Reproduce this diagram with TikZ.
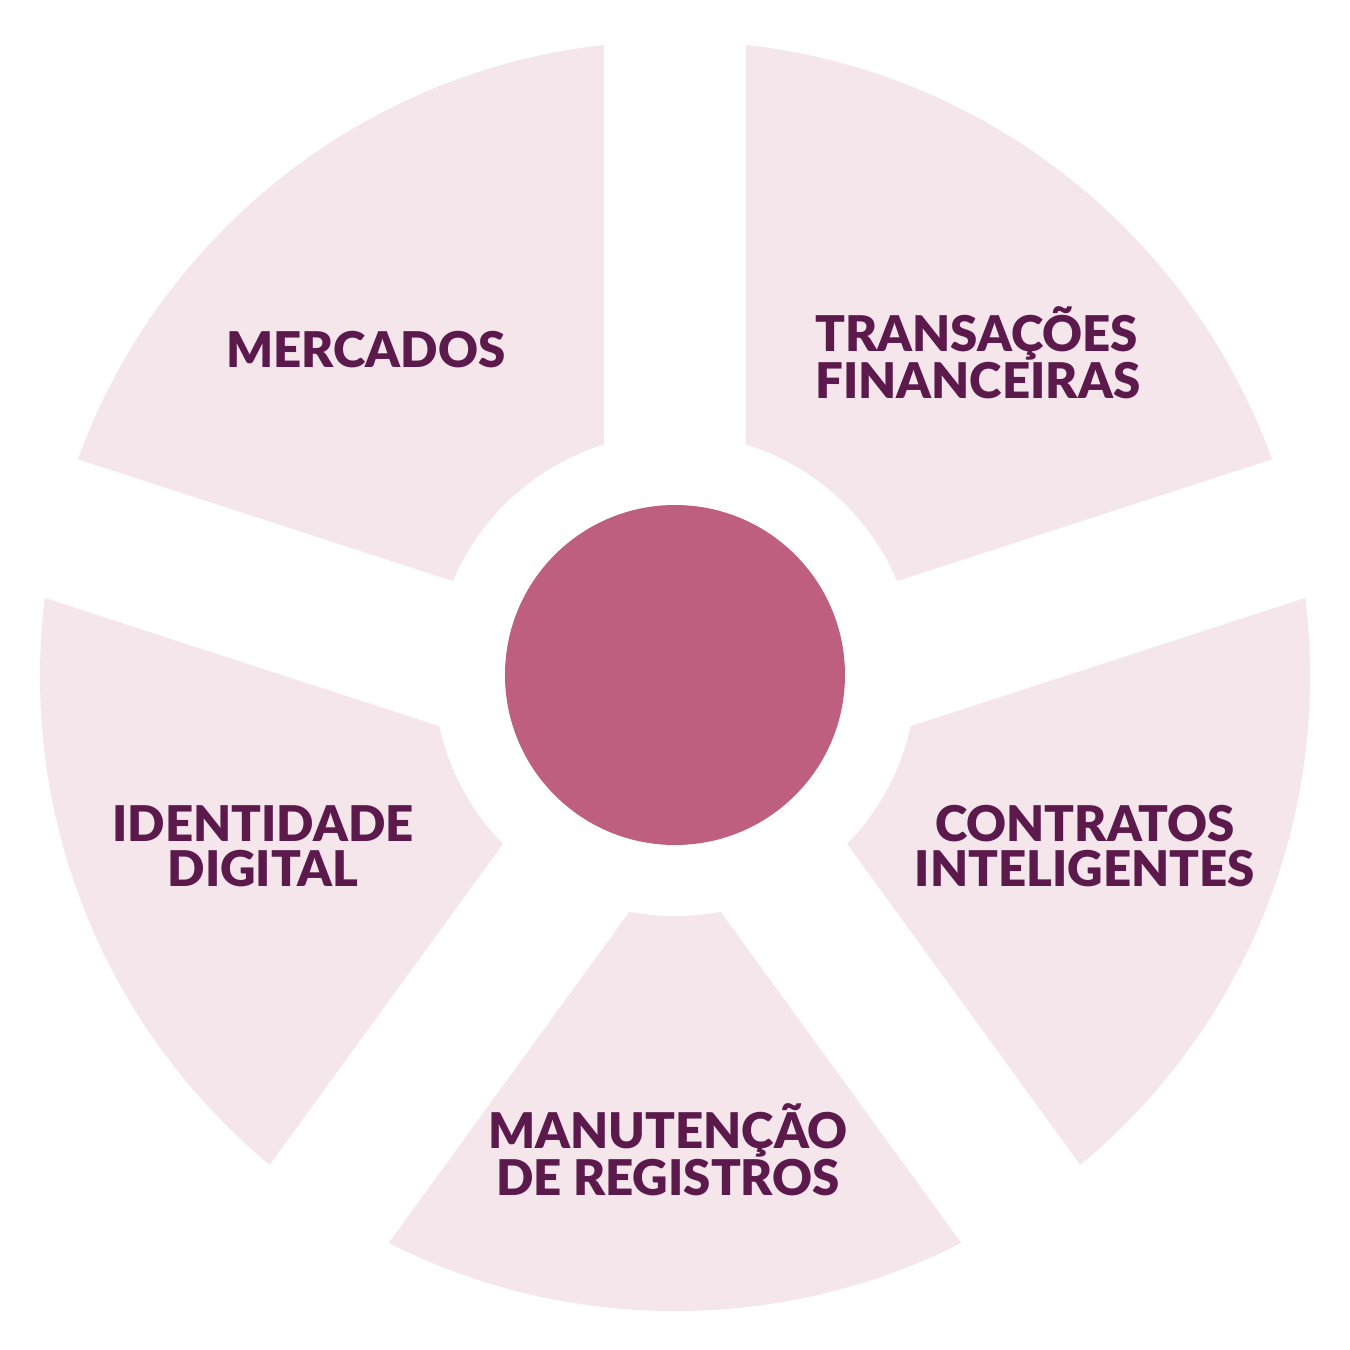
\documentclass[tikz,border=0pt]{standalone}
\usepackage{fontspec}
\setmainfont{Lato}[BoldFont={Lato Black}]
\definecolor{sectorpink}{HTML}{F5E6EC}
\definecolor{hubrose}{HTML}{BF5F80}
\definecolor{labelplum}{HTML}{5C1A4C}
\tikzset{
  seclabel/.style={text=labelplum, font=\fontsize{28}{25.5}\selectfont\bfseries, align=center, inner sep=0pt},
  gapstrip/.style={white, line width=2.84cm},
}
\begin{document}
\begin{tikzpicture}[x=0.02cm, y=0.02cm]
\useasboundingbox[fill=white] (-675,-675) rectangle (675,675);
% ring of sectors
\fill[sectorpink] (0,-1) circle[radius=635];
\coordinate (focus) at (0,-53);
\foreach \a in {90,162,234,306,18}
  \draw[gapstrip] (focus) -- ++(\a:760);
\fill[white] (0,0) circle[radius=241];
\fill[hubrose] (0,0) circle[radius=170];
\coordinate (hub) at (0,0);
% labels
\node[seclabel] (mercados) at (-309,325) {MERCADOS};
\node[seclabel, align=left, anchor=west] (transacoes) at (140,322) {TRANSAÇÕES\\FINANCEIRAS};
\node[seclabel] (contratos) at (410,-171) {CONTRATOS\\INTELIGENTES};
\node[seclabel] (identidade) at (-412,-171) {IDENTIDADE\\DIGITAL};
\node[seclabel] (manutencao) at (-7,-475) {MANUTENÇÃO\\DE REGISTROS};
\end{tikzpicture}
\end{document}
